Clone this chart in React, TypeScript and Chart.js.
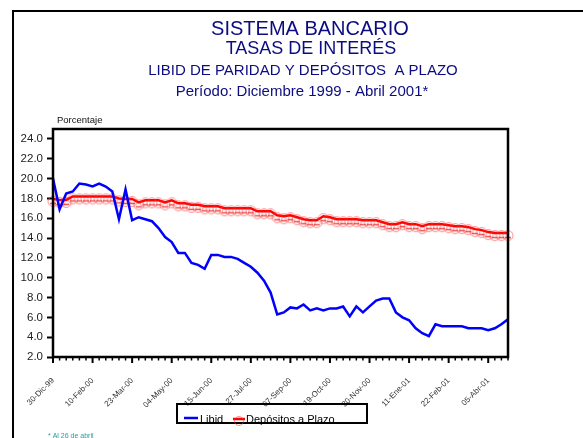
import React, { useEffect, useRef } from 'react';
import { Chart, registerables } from 'chart.js';

Chart.register(...registerables);

const titleLines = [
  'SISTEMA BANCARIO',
  'TASAS DE INTERÉS',
  'LIBID DE PARIDAD Y DEPÓSITOS  A PLAZO',
  'Período: Diciembre 1999 - Abril 2001*',
];
const yAxisTitle = 'Porcentaje';
const footNote = '* Al 26 de abril';
const seriesNames = ['Libid', 'Depósitos a Plazo'];

const dates = [
  '30-Dic-99', '06-Ene-00', '13-Ene-00', '20-Ene-00', '27-Ene-00', '03-Feb-00',
  '10-Feb-00', '17-Feb-00', '24-Feb-00', '02-Mar-00', '09-Mar-00', '16-Mar-00',
  '23-Mar-00', '30-Mar-00', '06-Abr-00', '13-Abr-00', '20-Abr-00', '27-Abr-00',
  '04-May-00', '11-May-00', '18-May-00', '25-May-00', '01-Jun-00', '08-Jun-00',
  '15-Jun-00', '22-Jun-00', '29-Jun-00', '06-Jul-00', '13-Jul-00', '20-Jul-00',
  '27-Jul-00', '03-Ago-00', '10-Ago-00', '17-Ago-00', '24-Ago-00', '31-Ago-00',
  '07-Sep-00', '14-Sep-00', '21-Sep-00', '28-Sep-00', '05-Oct-00', '12-Oct-00',
  '19-Oct-00', '26-Oct-00', '02-Nov-00', '09-Nov-00', '16-Nov-00', '23-Nov-00',
  '30-Nov-00', '07-Dic-00', '14-Dic-00', '21-Dic-00', '28-Dic-00', '04-Ene-01',
  '11-Ene-01', '18-Ene-01', '25-Ene-01', '01-Feb-01', '08-Feb-01', '15-Feb-01',
  '22-Feb-01', '01-Mar-01', '08-Mar-01', '15-Mar-01', '22-Mar-01', '29-Mar-01',
  '05-Abr-01', '12-Abr-01', '19-Abr-01', '26-Abr-01',
];

const libid = [
  20.0, 16.9, 18.5, 18.7, 19.5, 19.4, 19.2, 19.5, 19.2, 18.7,
  15.9, 18.9, 15.8, 16.1, 15.9, 15.7, 15.0, 14.1, 13.6, 12.5,
  12.5, 11.5, 11.3, 10.9, 12.3, 12.3, 12.1, 12.1, 11.9, 11.5,
  11.1, 10.5, 9.7, 8.5, 6.3, 6.5, 7.0, 6.9, 7.3, 6.7,
  6.9, 6.7, 6.9, 6.9, 7.1, 6.1, 7.1, 6.5, 7.1, 7.7,
  7.9, 7.9, 6.5, 6.0, 5.7, 4.9, 4.4, 4.1, 5.3, 5.1,
  5.1, 5.1, 5.1, 4.9, 4.9, 4.9, 4.7, 4.9, 5.3, 5.8,
];

const depositos = [
  17.95, 17.85, 17.85, 18.2, 18.2, 18.2, 18.2, 18.2, 18.2, 18.2,
  18.0, 17.95, 17.95, 17.6, 17.8, 17.8, 17.8, 17.6, 17.8, 17.5,
  17.5, 17.35, 17.35, 17.2, 17.2, 17.2, 17.0, 17.0, 17.0, 17.0,
  17.0, 16.7, 16.7, 16.7, 16.3, 16.2, 16.3, 16.1, 15.9, 15.8,
  15.8, 16.2, 16.1, 15.9, 15.9, 15.9, 15.9, 15.8, 15.8, 15.8,
  15.6, 15.4, 15.4, 15.6, 15.4, 15.4, 15.2, 15.4, 15.4, 15.4,
  15.3, 15.2, 15.2, 15.1, 14.9, 14.8, 14.6, 14.5, 14.5, 14.5,
];

const FONT = '"Liberation Sans", Arial, Helvetica, sans-serif';

function makeMarker(): HTMLCanvasElement {
  const c = document.createElement('canvas');
  c.width = 14;
  c.height = 24;
  const g = c.getContext('2d')!;
  g.strokeStyle = 'rgba(255,50,50,0.55)';
  g.lineWidth = 1;
  g.beginPath();
  g.arc(7, 14.5, 5, 0, Math.PI * 2);
  g.stroke();
  g.strokeStyle = 'rgba(225,0,0,0.7)';
  g.lineWidth = 1.5;
  g.beginPath();
  g.moveTo(4, 16.5);
  g.lineTo(10, 16.5);
  g.stroke();
  return c;
}

function centerText(ctx: CanvasRenderingContext2D, text: string, cx: number, baseline: number, size: number) {
  ctx.font = `${size}px ${FONT}`;
  ctx.textAlign = 'center';
  ctx.textBaseline = 'alphabetic';
  ctx.fillText(text, cx, baseline);
}

const decor = {
  id: 'decor',
  beforeDraw(chart: any) {
    const ctx = chart.ctx;
    ctx.save();
    ctx.fillStyle = '#fff';
    ctx.fillRect(0, 0, chart.width, chart.height);
    ctx.restore();
  },
  afterDraw(chart: any) {
    const ctx: CanvasRenderingContext2D = chart.ctx;
    const { left, top, right, bottom } = chart.chartArea;
    ctx.save();
    // outer frame
    ctx.strokeStyle = '#000';
    ctx.lineWidth = 2;
    ctx.strokeRect(13, 11, 700, 600);
    // plot border
    ctx.lineWidth = 2.5;
    ctx.strokeRect(left, top, right - left, bottom - top);
    // x ticks (major every 6 weeks, minor weekly)
    const xs = chart.scales.x;
    for (let i = 0; i < dates.length; i++) {
      const px = xs.getPixelForValue(i);
      const major = i % 6 === 0;
      ctx.lineWidth = major ? 2 : 1.5;
      ctx.beginPath();
      ctx.moveTo(px, bottom);
      ctx.lineTo(px, bottom + (major ? 6 : 3.5));
      ctx.stroke();
    }
    // titles
    ctx.fillStyle = '#0c0c80';
    centerText(ctx, titleLines[0], 310, 35, 20);
    centerText(ctx, titleLines[1], 311, 54, 18);
    centerText(ctx, titleLines[2], 303, 75, 15);
    centerText(ctx, titleLines[3], 302, 96, 15);
    // axis title
    ctx.fillStyle = '#111';
    ctx.font = `9.5px ${FONT}`;
    ctx.textAlign = 'left';
    ctx.textBaseline = 'middle';
    ctx.fillText(yAxisTitle, 57, 120);
    // legend
    ctx.strokeStyle = '#000';
    ctx.lineWidth = 2;
    ctx.strokeRect(177, 404, 190, 19);
    ctx.strokeStyle = '#0000ff';
    ctx.lineWidth = 2.5;
    ctx.beginPath();
    ctx.moveTo(184, 418);
    ctx.lineTo(198, 418);
    ctx.stroke();
    ctx.strokeStyle = '#ff0000';
    ctx.beginPath();
    ctx.moveTo(233, 419);
    ctx.lineTo(245, 419);
    ctx.stroke();
    ctx.strokeStyle = 'rgba(255,50,50,0.55)';
    ctx.lineWidth = 1;
    ctx.beginPath();
    ctx.arc(239, 421, 4.5, 0, Math.PI * 2);
    ctx.stroke();
    ctx.fillStyle = '#000';
    ctx.font = `11px ${FONT}`;
    ctx.textBaseline = 'alphabetic';
    ctx.fillText(seriesNames[0], 200, 423);
    ctx.fillText(seriesNames[1], 246, 423);
    // footnote
    ctx.fillStyle = '#2a9a9a';
    ctx.font = `7px ${FONT}`;
    ctx.textBaseline = 'top';
    ctx.fillText(footNote, 48, 433);
    ctx.restore();
  },
};

export default function App() {
  const ref = useRef<HTMLCanvasElement>(null);
  useEffect(() => {
    const canvas = ref.current!;
    const marker = makeMarker();
    const chart = new Chart(canvas, {
      type: 'line',
      data: {
        labels: dates,
        datasets: [
          {
            label: seriesNames[0],
            data: libid,
            borderColor: '#0000ff',
            borderWidth: 2.5,
            pointRadius: 0,
            tension: 0,
          },
          {
            label: seriesNames[1],
            data: depositos,
            borderColor: '#ff0000',
            borderWidth: 2.5,
            pointStyle: marker as any,
            pointRadius: 5,
            tension: 0,
            clip: false as any,
          },
        ],
      },
      options: {
        responsive: false,
        animation: false,
        devicePixelRatio: 1,
        layout: { padding: { left: 0, top: 129, right: 75, bottom: 0 } },
        plugins: {
          legend: { display: false },
          title: { display: false },
          tooltip: { enabled: false },
        },
        scales: {
          x: {
            type: 'category',
            offset: false,
            afterFit: (s: any) => { s.height = 81; },
            border: { display: false },
            grid: { display: false, drawTicks: false },
            ticks: {
              autoSkip: false,
              maxRotation: 45,
              minRotation: 45,
              padding: 19,
              color: '#333',
              font: { family: FONT, size: 8 },
              callback: (_v: any, i: number) => (i % 6 === 0 ? dates[i] : ''),
            },
          },
          y: {
            min: 2,
            max: 25,
            afterFit: (s: any) => { s.width = 53; },
            border: { display: false },
            grid: { drawOnChartArea: false, drawTicks: true, tickLength: 6, tickColor: '#000', tickWidth: 2 },
            ticks: {
              stepSize: 2,
              includeBounds: false,
              padding: 4,
              color: '#222',
              font: { family: FONT, size: 11.5 },
              callback: (v: any) => Number(v).toFixed(1),
            },
          },
        },
      },
      plugins: [decor],
    });
    return () => chart.destroy();
  }, []);
  return (
    <div style={{ position: 'fixed', left: 0, top: 0, width: 583, height: 438, overflow: 'hidden', background: '#fff' }}>
      <canvas ref={ref} width={583} height={438} style={{ display: 'block' }} />
    </div>
  );
}
